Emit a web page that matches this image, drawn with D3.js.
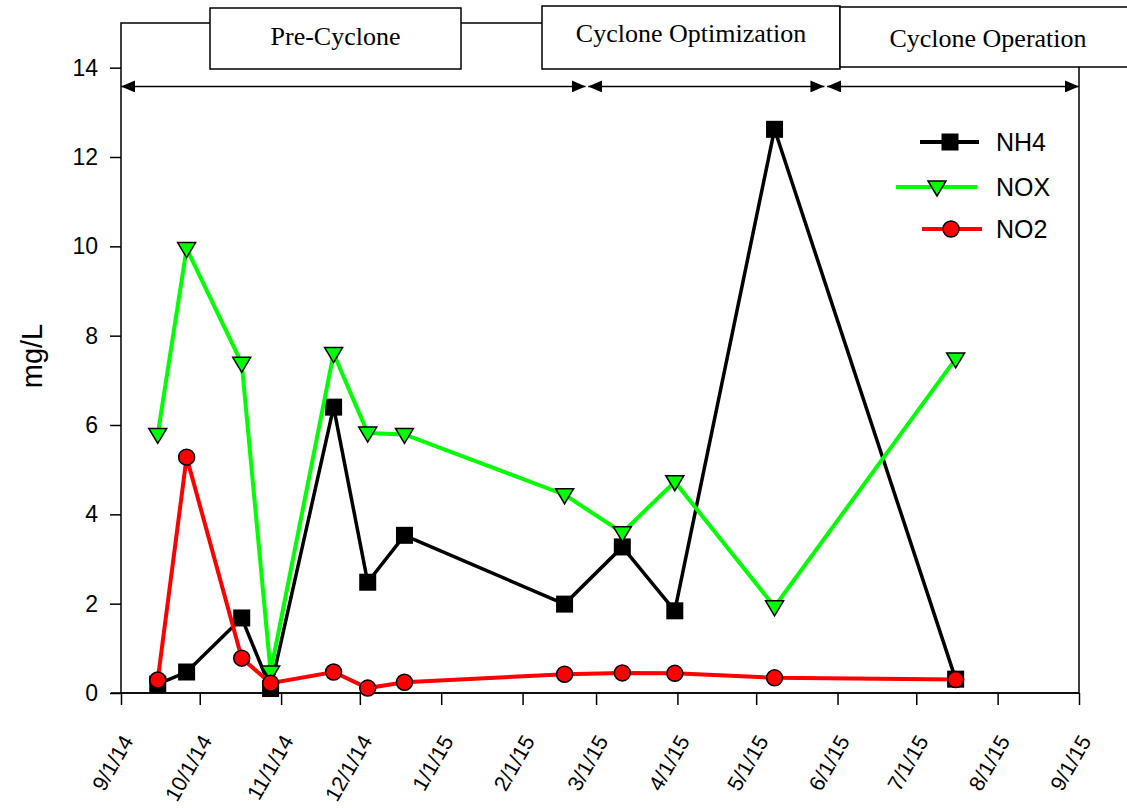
<!DOCTYPE html>
<html>
    <head>
        <script src="https://cdn.jsdelivr.net/npm/d3@7"></script>
        <style>
            body { margin: 0; background: #fff; }
        </style>
    </head>
    <body>
        <script>
            // sample dates and concentrations (mg/L)
            var sampleDates = ["2014-09-15", "2014-09-26", "2014-10-17", "2014-10-28", "2014-11-21", "2014-12-04",
                               "2014-12-18", "2015-02-17", "2015-03-11", "2015-03-31", "2015-05-08", "2015-07-16"];
            var nh4 = [0.2, 0.47, 1.68, 0.1, 6.4, 2.48, 3.53, 1.99, 3.27, 1.84, 12.62, 0.31];
            var nox = [5.79, 9.95, 7.38, 0.47, 7.6, 5.82, 5.79, 4.44, 3.59, 4.73, 1.93, 7.48];
            var no2 = [0.29, 5.28, 0.78, 0.22, 0.47, 0.11, 0.24, 0.42, 0.45, 0.44, 0.34, 0.3];

            var seriesNames = ["NH4", "NOX", "NO2"];
            var yTicks = [0, 2, 4, 6, 8, 10, 12, 14];

            // project phases: label + arrow start / end
            var phaseNames = ["Pre-Cyclone", "Cyclone Optimization", "Cyclone Operation"];
            var phaseStart = ["2014-09-01", "2015-02-26", "2015-05-28"];
            var phaseEnd   = ["2015-02-25", "2015-05-27", "2015-09-01"];
            var phaseLevel = 13.58;

            var parse = d3.timeParse("%Y-%m-%d");

            var w = 1127, h = 808;
            var mLeft = 121, mRight = 1079, mTop = 23, mBottom = 693;

            var svg = d3.select("body").append("svg")
                        .attr("width", w)
                        .attr("height", h);

            var x = d3.scaleTime()
                      .domain([parse("2014-09-01"), parse("2015-09-01")])
                      .range([mLeft, mRight]);
            var y = d3.scaleLinear()
                      .domain([0, 15])
                      .range([mBottom, mTop]);

            // frame
            svg.append("rect")
               .attr("x", mLeft).attr("y", mTop)
               .attr("width", mRight - mLeft).attr("height", mBottom - mTop)
               .attr("fill", "none").attr("stroke", "#000").attr("stroke-width", 1.5);

            // y axis
            var yAxis = svg.append("g")
               .attr("transform", "translate(" + mLeft + ",0)")
               .call(d3.axisLeft(y).tickValues(yTicks).tickSize(11).tickPadding(12));
            yAxis.select(".domain").remove();
            yAxis.selectAll("line").attr("stroke-width", 1.5);
            yAxis.selectAll("text")
                 .attr("font-family", "Liberation Sans, Arial, sans-serif")
                 .attr("font-size", "23px")
                 .attr("fill", "#000");

            // x axis
            var xAxis = svg.append("g")
               .attr("transform", "translate(0," + mBottom + ")")
               .call(d3.axisBottom(x).ticks(d3.timeMonth.every(1)).tickSize(12)
                       .tickFormat(d3.timeFormat("%-m/%-d/%y")));
            xAxis.select(".domain").attr("d", "M" + (mLeft - 10) + ",0H" + mRight).attr("stroke-width", 1.5);
            xAxis.selectAll("line").attr("stroke-width", 1.5);
            xAxis.selectAll("text")
                 .attr("font-family", "Liberation Sans, Arial, sans-serif")
                 .attr("font-size", "21.5px")
                 .attr("fill", "#000")
                 .attr("text-anchor", "end")
                 .attr("y", 0).attr("dy", "0.35em")
                 .attr("transform", "translate(6,44) rotate(-60)");

            // y title
            svg.append("text")
               .attr("transform", "translate(42,356) rotate(-90)")
               .attr("text-anchor", "middle")
               .attr("font-family", "Liberation Sans, Arial, sans-serif")
               .attr("font-size", "29px")
               .text("mg/L");

            // phase boxes along the top
            var boxes = [
                {x: 210, y: 8, w: 251, h: 61, ty: 45},
                {x: 542, y: 6, w: 298, h: 63, ty: 42},
                {x: 840, y: 7, w: 300, h: 60, ty: 47}
            ];
            boxes.forEach(function (b, i) {
                svg.append("rect")
                   .attr("x", b.x).attr("y", b.y).attr("width", b.w).attr("height", b.h)
                   .attr("fill", "#fff").attr("stroke", "#000").attr("stroke-width", 1.5);
                svg.append("text")
                   .attr("x", i == 2 ? 988 : b.x + b.w / 2).attr("y", b.ty)
                   .attr("text-anchor", "middle")
                   .attr("font-family", "Liberation Serif, Times New Roman, serif")
                   .attr("font-size", "26px")
                   .text(phaseNames[i]);
            });

            // arrow heads
            var defs = svg.append("defs");
            defs.append("marker")
                .attr("id", "head").attr("viewBox", "0 0 14 12")
                .attr("refX", 14).attr("refY", 6)
                .attr("markerWidth", 14).attr("markerHeight", 12)
                .attr("markerUnits", "userSpaceOnUse")
                .attr("orient", "auto-start-reverse")
                .append("path").attr("d", "M0,0L14,6L0,12Z").attr("fill", "#000");

            phaseNames.forEach(function (p, i) {
                svg.append("line")
                   .attr("x1", x(parse(phaseStart[i]))).attr("x2", x(parse(phaseEnd[i])))
                   .attr("y1", y(phaseLevel)).attr("y2", y(phaseLevel))
                   .attr("stroke", "#000").attr("stroke-width", 1.5)
                   .attr("marker-start", "url(#head)")
                   .attr("marker-end", "url(#head)");
            });

            // series
            var colors = {NH4: "#000000", NOX: "#00ff00", NO2: "#ff0000"};
            var values = {NH4: nh4, NOX: nox, NO2: no2};
            var dates = sampleDates.map(parse);

            var line = d3.line()
                         .x(d => x(d[0]))
                         .y(d => y(d[1]));

            function drawMarker(g, name, cx, cy) {
                if (name == "NH4") {
                    g.append("rect")
                     .attr("x", cx - 8.5).attr("y", cy - 8.5).attr("width", 17).attr("height", 17)
                     .attr("fill", "#000");
                } else if (name == "NOX") {
                    g.append("path")
                     .attr("d", "M" + (cx - 9) + "," + (cy - 6) + "L" + (cx + 9) + "," + (cy - 6) + "L" + cx + "," + (cy + 9) + "Z")
                     .attr("fill", "#00ff00").attr("stroke", "#000").attr("stroke-width", 1.5);
                } else {
                    g.append("circle")
                     .attr("cx", cx).attr("cy", cy).attr("r", 8)
                     .attr("fill", "#ff0000").attr("stroke", "#000").attr("stroke-width", 1.5);
                }
            }

            seriesNames.forEach(function (name) {
                var pts = dates.map((d, i) => [d, values[name][i]]);
                var g = svg.append("g");
                g.append("path")
                 .attr("d", line(pts))
                 .attr("fill", "none")
                 .attr("stroke", colors[name])
                 .attr("stroke-width", name == "NH4" ? 3.5 : 4)
                 .attr("stroke-linejoin", "miter");
                pts.forEach(p => drawMarker(g, name, x(p[0]), y(p[1])));
            });

            // legend
            var legend = [
                {x1: 920, x2: 979, mx: 950, y: 142},
                {x1: 896, x2: 977, mx: 937, y: 187},
                {x1: 922, x2: 982, mx: 951, y: 229}
            ];
            seriesNames.forEach(function (name, i) {
                var l = legend[i];
                var g = svg.append("g");
                g.append("line")
                 .attr("x1", l.x1).attr("x2", l.x2).attr("y1", l.y).attr("y2", l.y)
                 .attr("stroke", colors[name]).attr("stroke-width", 4);
                drawMarker(g, name, l.mx, l.y);
                g.append("text")
                 .attr("x", 996).attr("y", l.y + 9)
                 .attr("font-family", "Liberation Sans, Arial, sans-serif")
                 .attr("font-size", "25px")
                 .text(name);
            });
        </script>
    </body>
</html>
